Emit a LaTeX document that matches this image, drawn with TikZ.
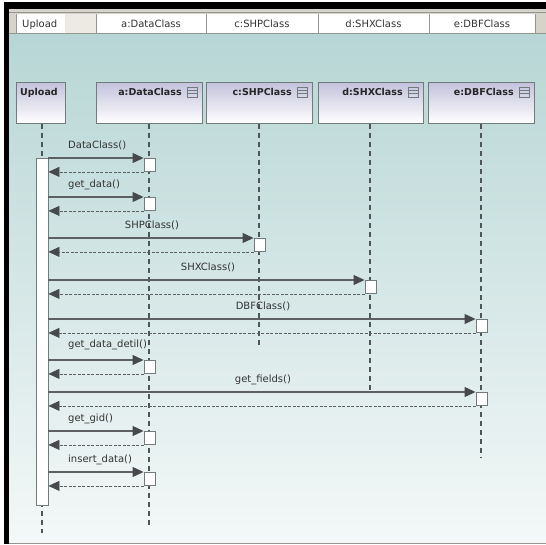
\documentclass[tikz,border=0pt]{standalone}
\usepackage{fontspec}
\setmainfont{DejaVu Sans}
\usetikzlibrary{arrows.meta}
\definecolor{bgtop}{RGB}{183,214,213}
\definecolor{bgbot}{RGB}{244,248,248}
\definecolor{headtop}{RGB}{196,194,220}
\definecolor{boxline}{RGB}{112,124,124}
\definecolor{lifecol}{RGB}{78,86,88}
\definecolor{msgcol}{RGB}{92,96,98}
\definecolor{tipcol}{RGB}{70,74,76}
\definecolor{chrome}{RGB}{214,211,203}
\definecolor{celline}{RGB}{150,150,145}
\definecolor{cellgray}{RGB}{236,234,226}
\tikzset{
  headbox/.style={draw=boxline, line width=0.9pt, top color=headtop, bottom color=white, minimum height=41pt, inner sep=0pt, anchor=north west},
  headtxt/.style={font=\fontsize{9.5}{11}\selectfont\bfseries, inner sep=0pt, text=black!85},
  celltxt/.style={font=\fontsize{10}{12}\selectfont, inner sep=0pt, text=black!80},
  msgtxt/.style={font=\fontsize{10}{12}\selectfont, inner sep=0pt, text=black!80},
  actbox/.style={draw=boxline, fill=white, line width=0.9pt, minimum width=11pt, minimum height=13pt, inner sep=0pt, anchor=north},
  lifeln/.style={draw=lifecol, line width=2pt, dash pattern=on 5pt off 4pt},
  msg/.style={draw=msgcol, line width=1.1pt, -{Triangle[length=11pt,width=10pt,color=tipcol]}},
  ret/.style={draw=msgcol, line width=0.7pt, dash pattern=on 3pt off 1.5pt, -{Triangle[length=11pt,width=10pt,color=tipcol]}},
  icon/.style={draw=boxline, line width=0.7pt}
}
\begin{document}
\begin{tikzpicture}[x=1pt,y=-1pt]
\useasboundingbox (0,0) rectangle (546,544);
% window chrome
\fill[white] (0,0) rectangle (546,544);
\fill[chrome] (9,9) rectangle (546,34);
\fill[black] (4,2) rectangle (546,9);
\fill[black] (4,2) rectangle (9,544);
\draw[celline, line width=0.6pt] (9,12.5) -- (546,12.5);
% header cells
\fill[white] (16,14) rectangle (65,33);
\fill[cellgray] (65,14) rectangle (96,33);
\fill[white] (96,14) rectangle (535,33);
\foreach \xx in {16,96,206,318,429,535} \draw[celline, line width=0.7pt] (\xx,14) -- (\xx,33);
\draw[celline, line width=0.6pt] (9,33.5) -- (546,33.5);
\node[celltxt, anchor=base west] (c0) at (22,27.5) {Upload};
\node[celltxt, anchor=base] (c1) at (151,27.5) {a:DataClass};
\node[celltxt, anchor=base] (c2) at (262,27.5) {c:SHPClass};
\node[celltxt, anchor=base] (c3) at (373.5,27.5) {d:SHXClass};
\node[celltxt, anchor=base] (c4) at (482,27.5) {e:DBFClass};
% diagram background
\shade[top color=bgtop, bottom color=bgbot] (9,34) rectangle (546,543);
\draw[celline, line width=0.8pt] (9,543) -- (546,543);
% lifeline heads
\node[headbox, minimum width=49pt] (hu) at (16,82) {};
\node[headbox, minimum width=106pt] (ha) at (96,82) {};
\node[headbox, minimum width=106pt] (hc) at (206,82) {};
\node[headbox, minimum width=105pt] (hd) at (318,82) {};
\node[headbox, minimum width=106pt] (he) at (428,82) {};
\node[headtxt, anchor=base west] (tu) at (20,95.5) {Upload};
\foreach \h/\t/\n in {ha/a:DataClass/ta, hc/c:SHPClass/tc, hd/d:SHXClass/td, he/e:DBFClass/te}{
  \node[headtxt, anchor=base east] (\n) at ([xshift=-21pt]\h.north east |- 0,95.5) {\t};
  \draw[icon] ([xshift=-16pt]\h.north east |- 0,87) rectangle ([xshift=-6pt]\h.north east |- 0,97);
  \draw[icon] ([xshift=-16pt]\h.north east |- 0,90.3) -- ([xshift=-6pt]\h.north east |- 0,90.3);
  \draw[icon] ([xshift=-16pt]\h.north east |- 0,93.7) -- ([xshift=-6pt]\h.north east |- 0,93.7);
}
% lifelines
\coordinate (eu) at (42,533);
\coordinate (ea) at (149,526);
\coordinate (ec) at (259,347);
\coordinate (ed) at (370,391);
\coordinate (ee) at (481,458);
\draw[lifeln] (hu.south -| eu) -- (eu);
\draw[lifeln] (ha.south -| ea) -- (ea);
\draw[lifeln] (hc.south -| ec) -- (ec);
\draw[lifeln] (hd.south -| ed) -- (ed);
\draw[lifeln] (he.south -| ee) -- (ee);
% activation bar of Upload
\node[actbox, minimum width=12pt, minimum height=347pt] (ubar) at (42,158) {};
% messages
\foreach \n/\xx/\yy in {b1/149.5/158, b2/149.5/197, b3/259.5/238, b4/370.5/280, b5/481.5/319, b6/149.5/360, b7/481.5/392, b8/149.5/431, b9/149.5/472}{
  \coordinate (\n pos) at (\xx,\yy);
}
\foreach \n in {b1,b2,b3,b4,b5,b6,b7,b8,b9}{
  \node[actbox] (\n) at (\n pos) {};
  \draw[msg] (ubar.east |- \n.north west) -- (\n.north west);
  \draw[ret] (\n.south west) -- (ubar.east |- \n.south west);
  \node[actbox] at (\n pos) {};
}
% message labels
\node[msgtxt, anchor=base west] (m1) at (68,148) {DataClass()};
\node[msgtxt, anchor=base west] (m2) at (68,187) {get\_data()};
\node[msgtxt, anchor=base] (m3) at (152,228) {SHPClass()};
\node[msgtxt, anchor=base] (m4) at (208,270) {SHXClass()};
\node[msgtxt, anchor=base] (m5) at (263,309) {DBFClass()};
\node[msgtxt, anchor=base west] (m6) at (68,347) {get\_data\_detil()};
\node[msgtxt, anchor=base] (m7) at (263,382) {get\_fields()};
\node[msgtxt, anchor=base west] (m8) at (68,421) {get\_gid()};
\node[msgtxt, anchor=base west] (m9) at (68,462) {insert\_data()};
\end{tikzpicture}
\end{document}
